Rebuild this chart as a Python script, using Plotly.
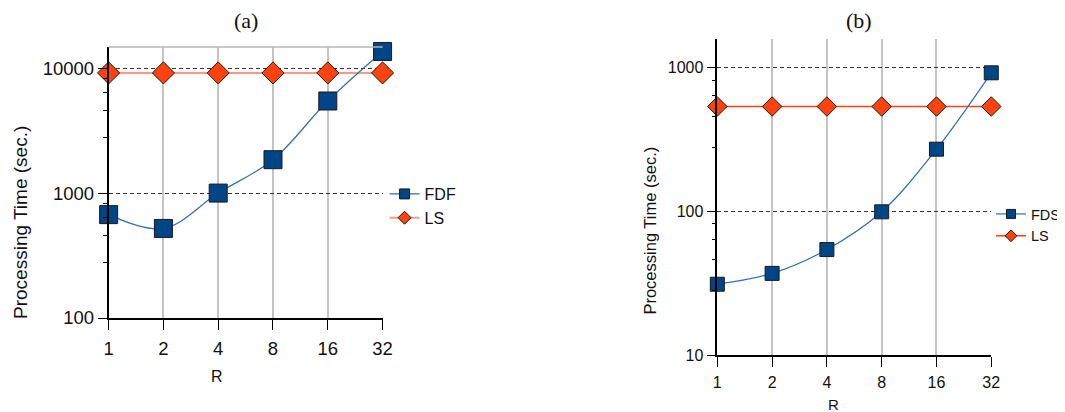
import math
import plotly.graph_objects as go

# ---- data ----
R = [1, 2, 4, 8, 16, 32]
R_labels = ["1", "2", "4", "8", "16", "32"]

fdf_a = [672, 521, 1000, 1850, 5460, 13600]
ls_a = [9160, 9160, 9160, 9160, 9160, 9160]

fds_b = [31.1, 37, 54.2, 99.3, 271, 922]
ls_b = [537, 537, 537, 537, 537, 537]

ytick_a = [100, 1000, 10000]
ytick_b = [10, 100, 1000]
minor_frac = [0.28, 0.46, 0.64, 0.82]

# page is 1065x412; the browser body adds an 8px margin, so the figure is a bit smaller
OFF = 8
W, H = 1065 - OFF, 412 - OFF
BLUE = "#004586"
BLUE_LINE = "#2f6db5"
ORANGE = "#ff420e"
SALMON = "#ff9a82"
FONT = "Liberation Sans"
TXT = "#111111"


def fx(px):
    return (px - OFF) / W


def fy(py):
    return 1 - (py - OFF) / H


fig = go.Figure()

# panel (a)
fig.add_trace(go.Scatter(x=R, y=ls_a, mode="lines+markers", xaxis="x", yaxis="y",
                         line=dict(color=SALMON, width=2),
                         marker=dict(symbol="diamond", size=17, color=ORANGE,
                                     line=dict(color="#1a1a1a", width=1)),
                         cliponaxis=False, showlegend=False))
fig.add_trace(go.Scatter(x=R, y=fdf_a, mode="lines+markers", xaxis="x", yaxis="y",
                         line=dict(color=BLUE_LINE, width=1.2, shape="spline", smoothing=1.0),
                         marker=dict(symbol="square", size=18, color=BLUE,
                                     line=dict(color="#1a1a1a", width=1)),
                         cliponaxis=False, showlegend=False))
fig.add_trace(go.Scatter(x=[None], y=[None], mode="lines+markers", name="FDF", xaxis="x", yaxis="y",
                         line=dict(color=BLUE_LINE, width=1.2),
                         marker=dict(symbol="square", size=10, color=BLUE, line=dict(color="#1a1a1a", width=1)),
                         legend="legend"))
fig.add_trace(go.Scatter(x=[None], y=[None], mode="lines+markers", name="LS", xaxis="x", yaxis="y",
                         line=dict(color=SALMON, width=2),
                         marker=dict(symbol="diamond", size=10, color=ORANGE, line=dict(color="#1a1a1a", width=1)),
                         legend="legend"))

# panel (b)
fig.add_trace(go.Scatter(x=R, y=ls_b, mode="lines+markers", xaxis="x2", yaxis="y2",
                         line=dict(color=ORANGE, width=1.5),
                         marker=dict(symbol="diamond", size=15, color=ORANGE,
                                     line=dict(color="#1a1a1a", width=1)),
                         cliponaxis=False, showlegend=False))
fig.add_trace(go.Scatter(x=R, y=fds_b, mode="lines+markers", xaxis="x2", yaxis="y2",
                         line=dict(color=BLUE_LINE, width=1.2, shape="spline", smoothing=1.0),
                         marker=dict(symbol="square", size=14, color=BLUE,
                                     line=dict(color="#1a1a1a", width=1)),
                         cliponaxis=False, showlegend=False))
fig.add_trace(go.Scatter(x=[None], y=[None], mode="lines+markers", name="FDS", xaxis="x2", yaxis="y2",
                         line=dict(color=BLUE_LINE, width=1.2),
                         marker=dict(symbol="square", size=9, color=BLUE, line=dict(color="#1a1a1a", width=1)),
                         legend="legend2"))
fig.add_trace(go.Scatter(x=[None], y=[None], mode="lines+markers", name="LS", xaxis="x2", yaxis="y2",
                         line=dict(color=ORANGE, width=1.5),
                         marker=dict(symbol="diamond", size=9, color=ORANGE, line=dict(color="#1a1a1a", width=1)),
                         legend="legend2"))

xr = [0, math.log10(32)]
ya_range = [2, math.log10(14770)]
yb_range = [1, math.log10(1585)]


def minor_vals(lo, hi):
    vals = []
    d = lo
    while d < hi:
        for f in minor_frac:
            vals.append(f * 10 ** (d + 1))
        d += 1
    return vals


def xaxis(domain, anchor, size, standoff):
    return dict(domain=domain, anchor=anchor, type="log", range=xr,
                tickmode="array", tickvals=R, ticktext=R_labels,
                showgrid=True, gridcolor="#c4c4c4", gridwidth=1.5,
                showline=True, linecolor="black", linewidth=1.5,
                ticks="outside", ticklen=10, tickcolor="black", tickwidth=1.2,
                ticklabelstandoff=standoff,
                tickfont=dict(family=FONT, size=size, color=TXT),
                zeroline=False, automargin=False, fixedrange=True)


def yaxis(domain, anchor, rng, tv, lo, hi, size):
    return dict(domain=domain, anchor=anchor, type="log", range=rng,
                tickmode="array", tickvals=tv, ticktext=[str(v) for v in tv],
                showgrid=True, gridcolor="#333", gridwidth=1, griddash="4px,3px",
                showline=True, linecolor="black", linewidth=1.5,
                ticks="outside", ticklen=9, tickcolor="black", tickwidth=1.2,
                minor=dict(tickmode="array", tickvals=minor_vals(lo, hi), ticks="outside",
                           ticklen=4, tickcolor="black", tickwidth=1.2, showgrid=False),
                tickfont=dict(family=FONT, size=size, color=TXT),
                zeroline=False, automargin=False, fixedrange=True)


def yaxis_in(overlay, anchor, rng, tv, lo, hi):
    return dict(overlaying=overlay, anchor=anchor, type="log", range=rng,
                tickmode="array", tickvals=tv, showticklabels=False,
                showgrid=False, showline=False, zeroline=False,
                ticks="inside", ticklen=9, tickcolor="black", tickwidth=1.2,
                minor=dict(tickmode="array", tickvals=minor_vals(lo, hi), ticks="inside",
                           ticklen=8, tickcolor="black", tickwidth=1.2, showgrid=False),
                automargin=False, fixedrange=True)


xa_dom = [fx(109), fx(384)]
ya_dom = [fy(318), fy(47)]
xb_dom = [fx(720), fx(995)]
yb_dom = [fy(355), fy(39)]


def ann(text, px, py, size, family=FONT, angle=0):
    return dict(text=text, x=fx(px), y=fy(py), xref="paper", yref="paper", showarrow=False,
                xanchor="center", yanchor="middle", textangle=angle,
                font=dict(family=family, size=size, color=TXT))


fig.update_layout(
    width=W, height=H,
    margin=dict(l=0, r=0, t=0, b=0),
    paper_bgcolor="white", plot_bgcolor="white",
    font=dict(family=FONT, color=TXT),
    xaxis=xaxis(xa_dom, "y", 18.5, 3),
    yaxis=yaxis(ya_dom, "x", ya_range, ytick_a, 2, 4, 18.5),
    yaxis3=yaxis_in("y", "x", ya_range, ytick_a, 2, 4),
    xaxis2=xaxis(xb_dom, "y2", 16, 2),
    yaxis2=yaxis(yb_dom, "x2", yb_range, ytick_b, 1, 3, 16),
    yaxis4=yaxis_in("y2", "x2", yb_range, ytick_b, 1, 3),
    legend=dict(x=fx(386), y=fy(177), xanchor="left", yanchor="top",
                font=dict(family=FONT, size=16, color=TXT),
                bgcolor="rgba(0,0,0,0)", itemwidth=30, tracegroupgap=0),
    legend2=dict(x=fx(995), y=fy(198), xanchor="left", yanchor="top",
                 font=dict(family=FONT, size=14.5, color=TXT),
                 bgcolor="rgba(0,0,0,0)", itemwidth=30, tracegroupgap=0),
    shapes=[dict(type="line", xref="x domain", yref="y domain", x0=0, x1=1, y0=1, y1=1,
                 line=dict(color="#b4b4b4", width=1.5))],
    annotations=[
        ann("(a)", 247, 20, 22, "Liberation Serif"),
        ann("(b)", 862, 20, 22, "Liberation Serif"),
        ann("R", 218, 376, 16),
        ann("R", 837, 404, 15),
        ann("Processing Time (sec.)", 20, 222, 19, angle=-90),
        ann("Processing Time (sec.)", 652, 231, 16.5, angle=-90),
    ],
)

fig.write_html("out.html")
